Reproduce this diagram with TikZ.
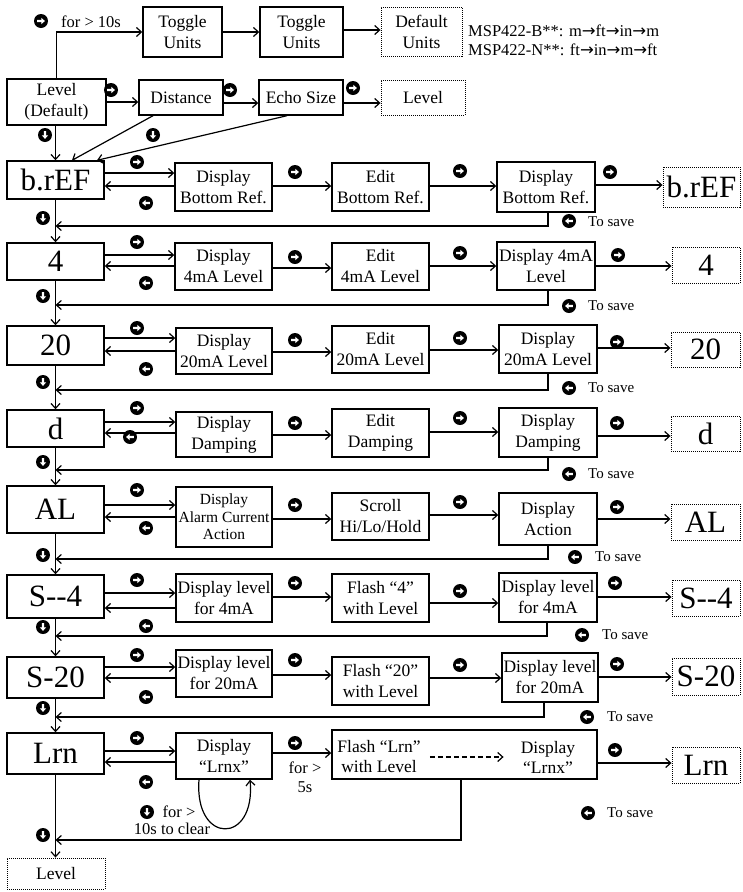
\documentclass[tikz,border=0pt]{standalone}
\usepackage{fontspec}
\setmainfont{Liberation Serif}
\newfontfamily\arrfont{DejaVu Sans}
\usetikzlibrary{arrows.meta}
\newcommand\mkbox[7]{%
 \pgfmathsetmacro\cxx{(#3+#5)/2}\pgfmathsetmacro\cyy{(#4+#6)/2}%
 \pgfmathsetmacro\wwx{#5-#3}\pgfmathsetmacro\hhx{#6-#4}%
 \node[#2, minimum width=\wwx pt, minimum height=\hhx pt] (#1) at (\cxx,\cyy) {#7};}
\newcommand\bR[2]{\pic at (#1,#2) {btn};}
\newcommand\bL[2]{\pic[rotate=180] at (#1,#2) {btn};}
\newcommand\bD[2]{\pic[rotate=-90] at (#1,#2) {btn};}
\newcommand\ar{{\arrfont →}}
\tikzset{
  bx/.style={draw, line width=1.4pt, align=center, inner sep=0pt, font=\fontsize{17.5}{21}\selectfont},
  big/.style={draw, line width=1.4pt, inner sep=0pt, font=\fontsize{31}{33}\selectfont},
  dbx/.style={draw, line width=0.9pt, dash pattern=on 1pt off 1pt, align=center, inner sep=0pt, font=\fontsize{17.5}{21}\selectfont},
  dbig/.style={dbx, font=\fontsize{31}{33}\selectfont},
  arr/.style={-{Straight Barb[length=5pt,width=9pt,line width=1.2pt]}, line width=1.2pt},
  lbl/.style={inner sep=0pt, align=center, font=\fontsize{16.5}{19}\selectfont},
  sv/.style={inner sep=0pt, anchor=west, font=\fontsize{15}{17}\selectfont},
  btn/.pic={\fill[black] (0,0) circle[radius=7pt];
    \fill[white] (-3.8,-1.2)--(0.4,-1.2)--(0.4,-3.1)--(3.9,0)--(0.4,3.1)--(0.4,1.2)--(-3.8,1.2)--cycle;},
}
\begin{document}
\begin{tikzpicture}[x=1pt,y=-1pt]
\useasboundingbox (0,0) rectangle (742,892);
% ---------- top ----------
\mkbox{lvl}{bx}{7}{79}{106}{125}{Level\\(Default)}
\mkbox{tuA}{bx}{143}{7}{222}{57}{Toggle\\Units}
\mkbox{tuB}{bx}{260}{7}{343}{57}{Toggle\\Units}
\mkbox{du}{dbx}{381}{7}{462}{56}{Default\\Units}
\mkbox{dist}{bx}{139}{80}{223}{115}{Distance}
\mkbox{echo}{bx}{259}{80}{343}{115}{Echo Size}
\mkbox{lvlB}{dbx}{381}{80}{465}{115}{Level}
\bR{41}{21}
\node[lbl] (t10) at (91,22) {for > 10s};
\node[lbl, anchor=west] (mspB) at (468,31) {MSP422-B**: m\ar ft\ar in\ar m};
\node[lbl, anchor=west] (mspN) at (468,50) {MSP422-N**: ft\ar in\ar m\ar ft};
% ---------- rows ----------
\mkbox{bref}{big}{7}{161}{104}{199}{b.rEF}
\mkbox{ba}{bx}{175}{163}{272}{211}{Display\\Bottom Ref.}
\mkbox{bb}{bx}{332}{163}{429}{211}{Edit\\Bottom Ref.}
\mkbox{bc}{bx}{497}{162}{595}{212}{Display\\Bottom Ref.}
\mkbox{bd}{dbig}{663}{167}{740}{207}{b.rEF}

\mkbox{four}{big}{7}{243}{104}{280}{4}
\mkbox{fa}{bx}{175}{243}{272}{290}{Display\\4mA Level}
\mkbox{fb}{bx}{332}{243}{429}{290}{Edit\\4mA Level}
\mkbox{fc}{bx}{497}{242}{595}{290}{Display 4mA\\Level}
\mkbox{fd}{dbig}{672}{247}{740}{283}{4}

\mkbox{tw}{big}{7}{326}{104}{365}{20}
\mkbox{ta}{bx}{176}{328}{272}{374}{Display\\20mA Level}
\mkbox{tb}{bx}{332}{326}{429}{373}{Edit\\20mA Level}
\mkbox{tc}{bx}{499}{325}{597}{373}{Display\\20mA Level}
\mkbox{td}{dbig}{671}{332}{740}{367}{20}

\mkbox{dd}{big}{7}{410}{104}{447}{d}
\mkbox{da}{bx}{176}{412}{272}{457}{Display\\Damping}
\mkbox{db}{bx}{332}{409}{429}{457}{Edit\\Damping}
\mkbox{dc}{bx}{499}{408}{597}{457}{Display\\Damping}
\mkbox{de}{dbig}{671}{416}{740}{451}{d}

\mkbox{al}{big}{7}{486}{104}{533}{AL}
\mkbox{aa}{bx,font=\fontsize{15.5}{17.5}\selectfont}{176}{487}{272}{547}{Display\\Alarm Current\\Action}
\mkbox{ab}{bx}{332}{493}{429}{540}{Scroll\\Hi/Lo/Hold}
\mkbox{ac}{bx}{499}{493}{597}{545}{Display\\Action}
\mkbox{ad}{dbig}{671}{504}{740}{540}{AL}

\mkbox{sf}{big}{7}{575}{104}{618}{S\mbox{-}\mbox{-}4}
\mkbox{sfa}{bx}{176}{574}{272}{622}{Display level\\for 4mA}
\mkbox{sfb}{bx}{332}{574}{429}{622}{Flash “4”\\with Level}
\mkbox{sfc}{bx}{499}{573}{597}{622}{Display level\\for 4mA}
\mkbox{sfd}{dbig}{672}{580}{740}{616}{S\mbox{-}\mbox{-}4}

\mkbox{st}{big}{7}{657}{104}{698}{S-20}
\mkbox{sta}{bx}{176}{650}{272}{697}{Display level\\for 20mA}
\mkbox{stb}{bx}{332}{657}{429}{705}{Flash “20”\\with Level}
\mkbox{stc}{bx}{502}{653}{598}{702}{Display level\\for 20mA}
\mkbox{std}{dbig}{672}{658}{740}{695}{S-20}

\mkbox{lr}{big}{7}{733}{104}{774}{Lrn}
\mkbox{lra}{bx}{176}{733}{272}{779}{Display\\“Lrnx”}
\mkbox{lrb}{bx}{332}{730}{597}{779}{}
\node[lbl, font=\fontsize{17.5}{20}\selectfont] (flt) at (379,757) {Flash “Lrn”\\with Level};
\node[lbl, font=\fontsize{17.5}{20}\selectfont] (dlt) at (548,757) {Display\\“Lrnx”};
\mkbox{lrd}{dbig}{672}{747}{740}{783}{Lrn}
\mkbox{lvlE}{dbx}{7}{858}{105}{889}{Level}

% ---------- top connectors ----------
\draw[arr] (lvl.north) |- (tuA.west |- 0,32);
\draw[arr] (tuA.east |- 0,32) -- (tuB.west |- 0,32);
\draw[arr] (tuB.east |- 0,30) -- (du.west |- 0,30);
\draw[arr] (lvl.east |- 0,102) -- (dist.west |- 0,102); \bR{111}{90}
\draw[arr] (dist.east |- 0,103) -- (echo.west |- 0,103); \bR{230}{90}
\draw[arr] (echo.east |- 0,103) -- (lvlB.west |- 0,103); \bR{353}{88}
\draw[arr] (dist.south -| 153,0) -- (bref.north -| 72,0);
\draw[arr] (echo.south -| 287,0) -- (bref.north -| 97,0);
\draw[arr] (bref.north |- lvl.south) -- (bref.north);
\bD{45}{135} \bD{153}{135}

% ---------- main vertical ----------
\draw[arr] (bref.south) -- (four.north);
\draw[arr] (four.south) -- (tw.north);
\draw[arr] (tw.south) -- (dd.north);
\draw[arr] (dd.south) -- (al.north);
\draw[arr] (al.south) -- (sf.north);
\draw[arr] (sf.south) -- (st.north);
\draw[arr] (st.south) -- (lr.north);
\draw[arr] (lr.south) -- (lr.south |- lvlE.north);

% ---------- row b.rEF ----------
\draw[arr] (bref.east |- 0,173) -- (ba.west |- 0,173);
\draw[arr] (ba.west |- 0,186) -- (bref.east |- 0,186);
\draw[arr] (ba.east |- 0,186) -- (bb.west |- 0,186);
\draw[arr] (bb.east |- 0,186) -- (bc.west |- 0,186);
\draw[arr] (bc.east |- 0,185) -- (bd.west |- 0,185);
\draw[arr] (bc.south -| 548,0) |- (bref.south |- 0,226);
\bR{137}{162} \bL{146}{203} \bR{295}{172} \bR{460}{171} \bR{610}{172}
\bL{569}{221} \node[sv] (sv1) at (588,222) {To save}; \bD{43}{218}

% ---------- row 4 ----------
\draw[arr] (four.east |- 0,255) -- (fa.west |- 0,255);
\draw[arr] (fa.west |- 0,266) -- (four.east |- 0,266);
\draw[arr] (fa.east |- 0,268) -- (fb.west |- 0,268);
\draw[arr] (fb.east |- 0,266) -- (fc.west |- 0,266);
\draw[arr] (fc.east |- 0,266) -- (fd.west |- 0,266);
\draw[arr] (fc.south -| 548,0) |- (four.south |- 0,305);
\bR{137}{242} \bL{146}{283} \bR{295}{257} \bR{460}{253} \bR{618}{255}
\bL{569}{306} \node[sv] (sv2) at (588,306) {To save}; \bD{43}{296}

% ---------- row 20 ----------
\draw[arr] (tw.east |- 0,338) -- (ta.west |- 0,338);
\draw[arr] (ta.west |- 0,351) -- (tw.east |- 0,351);
\draw[arr] (ta.east |- 0,352) -- (tb.west |- 0,352);
\draw[arr] (tb.east |- 0,350) -- (tc.west |- 0,350);
\draw[arr] (tc.east |- 0,348) -- (td.west |- 0,348);
\draw[arr] (tc.south -| 548,0) |- (tw.south |- 0,390);
\bR{137}{328} \bL{146}{369} \bR{295}{340} \bR{460}{338} \bR{617}{342}
\bL{569}{388} \node[sv] (sv3) at (588,388) {To save}; \bD{43}{382}

% ---------- row d ----------
\draw[arr] (dd.east |- 0,422) -- (da.west |- 0,422);
\draw[arr] (da.west |- 0,433) -- (dd.east |- 0,433);
\draw[arr] (da.east |- 0,435) -- (db.west |- 0,435);
\draw[arr] (db.east |- 0,432) -- (dc.west |- 0,432);
\draw[arr] (dc.east |- 0,436) -- (de.west |- 0,436);
\draw[arr] (dc.south -| 548,0) |- (dd.south |- 0,470);
\bR{137}{408} \bL{130}{437} \bR{295}{423} \bR{460}{418} \bR{617}{423}
\bL{569}{474} \node[sv] (sv4) at (588,474) {To save}; \bD{43}{462}

% ---------- row AL ----------
\draw[arr] (al.east |- 0,505) -- (aa.west |- 0,505);
\draw[arr] (aa.west |- 0,517) -- (al.east |- 0,517);
\draw[arr] (aa.east |- 0,519) -- (ab.west |- 0,519);
\draw[arr] (ab.east |- 0,515) -- (ac.west |- 0,515);
\draw[arr] (ac.east |- 0,519) -- (ad.west |- 0,519);
\draw[arr] (ac.south -| 548,0) |- (al.south |- 0,559);
\bR{137}{490} \bL{146}{528} \bR{295}{505} \bR{460}{502} \bR{617}{507}
\bL{575}{557} \node[sv] (sv5) at (595,557) {To save}; \bD{43}{555}

% ---------- row S--4 ----------
\draw[arr] (sf.east |- 0,593) -- (sfa.west |- 0,593);
\draw[arr] (sfa.west |- 0,608) -- (sf.east |- 0,608);
\draw[arr] (sfa.east |- 0,597) -- (sfb.west |- 0,597);
\draw[arr] (sfb.east |- 0,603) -- (sfc.west |- 0,603);
\draw[arr] (sfc.east |- 0,597) -- (sfd.west |- 0,597);
\draw[arr] (sfc.south -| 547,0) |- (sf.south |- 0,636);
\bR{137}{580} \bL{146}{626} \bR{295}{583} \bR{460}{591} \bR{615}{583}
\bL{582}{635} \node[sv] (sv6) at (602,635) {To save}; \bD{43}{627}

% ---------- row S-20 ----------
\draw[arr] (st.east |- 0,667) -- (sta.west |- 0,667);
\draw[arr] (sta.west |- 0,678) -- (st.east |- 0,678);
\draw[arr] (sta.east |- 0,675) -- (stb.west |- 0,675);
\draw[arr] (stb.east |- 0,678) -- (stc.west |- 0,678);
\draw[arr] (stc.east |- 0,677) -- (std.west |- 0,677);
\draw[arr] (stc.south -| 544,0) |- (st.south |- 0,717);
\bR{137}{655} \bL{146}{697} \bR{295}{660} \bR{460}{665} \bR{617}{664}
\bL{587}{717} \node[sv] (sv7) at (607,717) {To save}; \bD{43}{708}

% ---------- row Lrn ----------
\draw[arr] (lr.east |- 0,751) -- (lra.west |- 0,751);
\draw[arr] (lra.west |- 0,762) -- (lr.east |- 0,762);
\draw[arr] (lra.east |- 0,753) -- (lrb.west |- 0,753);
\draw[arr, dash pattern=on 5pt off 3pt] ([xshift=9pt]flt.east) -- ([xshift=-17pt]dlt.west);
\draw[arr] (lrb.east |- 0,763) -- (lrd.west |- 0,763);
\draw[arr] (lrb.south -| 461,0) |- (lr.south |- 0,840);
\draw[arr] (lra.south -| 199,0) .. controls (194,845) and (256,845) .. (lra.south -| 250,0);
\bR{137}{738} \bL{146}{782} \bR{295}{743} \bR{615}{750}
\node[lbl] (f5) at (305,777) {for >\\5s};
\bD{147}{812}
\node[lbl] (f10a) at (179,812) {for >};
\node[lbl] (f10b) at (172,829) {10s to clear};
\bL{588}{813} \node[sv] (sv8) at (607,813) {To save}; \bD{43}{835}
\end{tikzpicture}
\end{document}
